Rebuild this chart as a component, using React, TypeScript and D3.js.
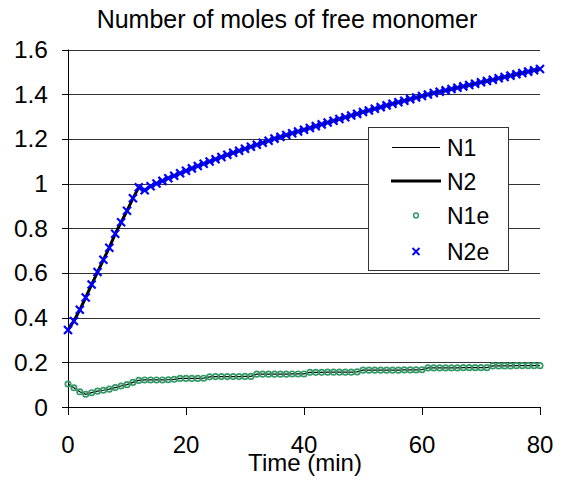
import React from "react";
import * as d3 from "d3";

const times: number[] = d3.range(0, 81);

const n1e: number[] = [
  0.103, 0.086, 0.068, 0.057, 0.064, 0.071, 0.075, 0.08, 0.087, 0.094,
  0.1, 0.11, 0.119, 0.121, 0.121, 0.121, 0.121, 0.122, 0.124, 0.128,
  0.128, 0.128, 0.128, 0.129, 0.135, 0.136, 0.136, 0.136, 0.136, 0.136,
  0.137, 0.137, 0.147, 0.147, 0.147, 0.147, 0.147, 0.147, 0.148, 0.148,
  0.148, 0.155, 0.155, 0.155, 0.156, 0.156, 0.156, 0.156, 0.156, 0.157,
  0.165, 0.165, 0.165, 0.165, 0.165, 0.165, 0.165, 0.166, 0.166, 0.166,
  0.167, 0.175, 0.175, 0.175, 0.175, 0.175, 0.175, 0.176, 0.176, 0.176,
  0.176, 0.176, 0.184, 0.184, 0.184, 0.184, 0.185, 0.185, 0.185, 0.185,
  0.185,
];

const n2e: number[] = [
  0.345, 0.385, 0.435, 0.49, 0.548, 0.604, 0.659, 0.713, 0.775, 0.827,
  0.878, 0.934, 0.983, 0.97, 0.988, 1.0, 1.012, 1.024, 1.035, 1.046,
  1.057, 1.068, 1.079, 1.089, 1.099, 1.109, 1.119, 1.129, 1.138, 1.147,
  1.156, 1.165, 1.174, 1.183, 1.192, 1.201, 1.209, 1.217, 1.225, 1.233,
  1.241, 1.249, 1.257, 1.265, 1.273, 1.281, 1.289, 1.297, 1.305, 1.312,
  1.32, 1.327, 1.335, 1.342, 1.35, 1.357, 1.364, 1.371, 1.378, 1.385,
  1.392, 1.399, 1.405, 1.411, 1.417, 1.423, 1.429, 1.435, 1.441, 1.447,
  1.453, 1.459, 1.465, 1.471, 1.477, 1.483, 1.489, 1.495, 1.501, 1.507,
  1.513,
];

// model curves (tracking the measured points)
const n1: number[] = n1e;
const n2: number[] = n2e;

const yTicks: number[] = [0, 0.2, 0.4, 0.6, 0.8, 1, 1.2, 1.4, 1.6];
const xTicks: number[] = [0, 20, 40, 60, 80];
const legendLabels: string[] = ["N1", "N2", "N1e", "N2e"];

const title = "Number of moles of free monomer";
const xTitle = "Time (min)";

const FONT = "'Liberation Sans', Arial, sans-serif";
const GREEN = "#339966";
const BLUE = "#0000ff";

export default function App() {
  const W = 563;
  const H = 483;
  const x = d3.scaleLinear().domain([0, 80]).range([68, 540]);
  const y = d3.scaleLinear().domain([0, 1.6]).range([407, 49.5]);

  const line = d3
    .line<number>()
    .x((_, i) => x(times[i]))
    .y((d) => y(d));

  const lg = { x: 368.5, y: 127.5, w: 140, h: 143 };
  const rowY = [147.5, 181, 215.5, 251.5];

  const cross = (cx: number, cy: number, s: number) =>
    `M${cx - s},${cy - s}L${cx + s},${cy + s}M${cx - s},${cy + s}L${cx + s},${cy - s}`;

  return (
    <svg
      width={W}
      height={H}
      style={{ position: "absolute", left: 0, top: 0, background: "#fff" }}
      fontFamily={FONT}
    >
      <rect x={0} y={0} width={W} height={H} fill="#fff" />
      <text x={287} y={28} fontSize={25} textAnchor="middle" fill="#000">
        {title}
      </text>

      {/* gridlines */}
      {yTicks
        .filter((t) => t > 0)
        .map((t) => (
          <line
            key={"g" + t}
            x1={x(0)}
            x2={x(80)}
            y1={Math.round(y(t)) + 0.5}
            y2={Math.round(y(t)) + 0.5}
            stroke="#333"
            strokeWidth={1}
          />
        ))}

      {/* axes */}
      <line x1={x(0) + 0.5} x2={x(0) + 0.5} y1={y(1.6)} y2={y(0)} stroke="#000" />
      <line x1={x(0)} x2={x(80)} y1={Math.round(y(0)) + 0.5} y2={Math.round(y(0)) + 0.5} stroke="#000" />
      {yTicks.map((t) => (
        <g key={"yt" + t}>
          <line
            x1={x(0) - 6}
            x2={x(0)}
            y1={Math.round(y(t)) + 0.5}
            y2={Math.round(y(t)) + 0.5}
            stroke="#000"
          />
          <text x={48} y={y(t) + 8.5} fontSize={24.5} textAnchor="end" fill="#000">
            {String(t)}
          </text>
        </g>
      ))}
      {xTicks.map((t) => (
        <g key={"xt" + t}>
          <line
            x1={Math.round(x(t)) + 0.5}
            x2={Math.round(x(t)) + 0.5}
            y1={y(0)}
            y2={y(0) + 8}
            stroke="#000"
          />
          <text x={x(t)} y={453} fontSize={24} textAnchor="middle" fill="#000">
            {t}
          </text>
        </g>
      ))}
      <text x={(x(0) + x(80)) / 2 + 1} y={471} fontSize={24} textAnchor="middle" fill="#000">
        {xTitle}
      </text>

      {/* lines */}
      <path d={line(n1) || ""} fill="none" stroke="#000" strokeWidth={1.2} />
      <path d={line(n2) || ""} fill="none" stroke="#000" strokeWidth={3} />

      {/* markers */}
      {n1e.map((v, i) => (
        <circle
          key={"c" + i}
          cx={x(times[i])}
          cy={y(v)}
          r={2.7}
          fill="none"
          stroke={GREEN}
          strokeWidth={1.7}
        />
      ))}
      {n2e.map((v, i) => (
        <path
          key={"x" + i}
          d={cross(x(times[i]), y(v), 4)}
          stroke={BLUE}
          strokeWidth={2.2}
          fill="none"
        />
      ))}

      {/* legend */}
      <rect x={lg.x} y={lg.y} width={lg.w} height={lg.h} fill="#fff" stroke="#333" strokeWidth={1} />
      <line x1={392} x2={440} y1={rowY[0]} y2={rowY[0]} stroke="#000" strokeWidth={1.2} />
      <line x1={391} x2={441} y1={rowY[1]} y2={rowY[1]} stroke="#000" strokeWidth={3} />
      <circle cx={416} cy={rowY[2]} r={2.4} fill="none" stroke={GREEN} strokeWidth={1.5} />
      <path d={cross(416, rowY[3], 3.5)} stroke={BLUE} strokeWidth={1.8} fill="none" />
      {legendLabels.map((l, i) => (
        <text key={l} x={447} y={rowY[i] + 8.5} fontSize={23} fill="#000">
          {l}
        </text>
      ))}
    </svg>
  );
}
